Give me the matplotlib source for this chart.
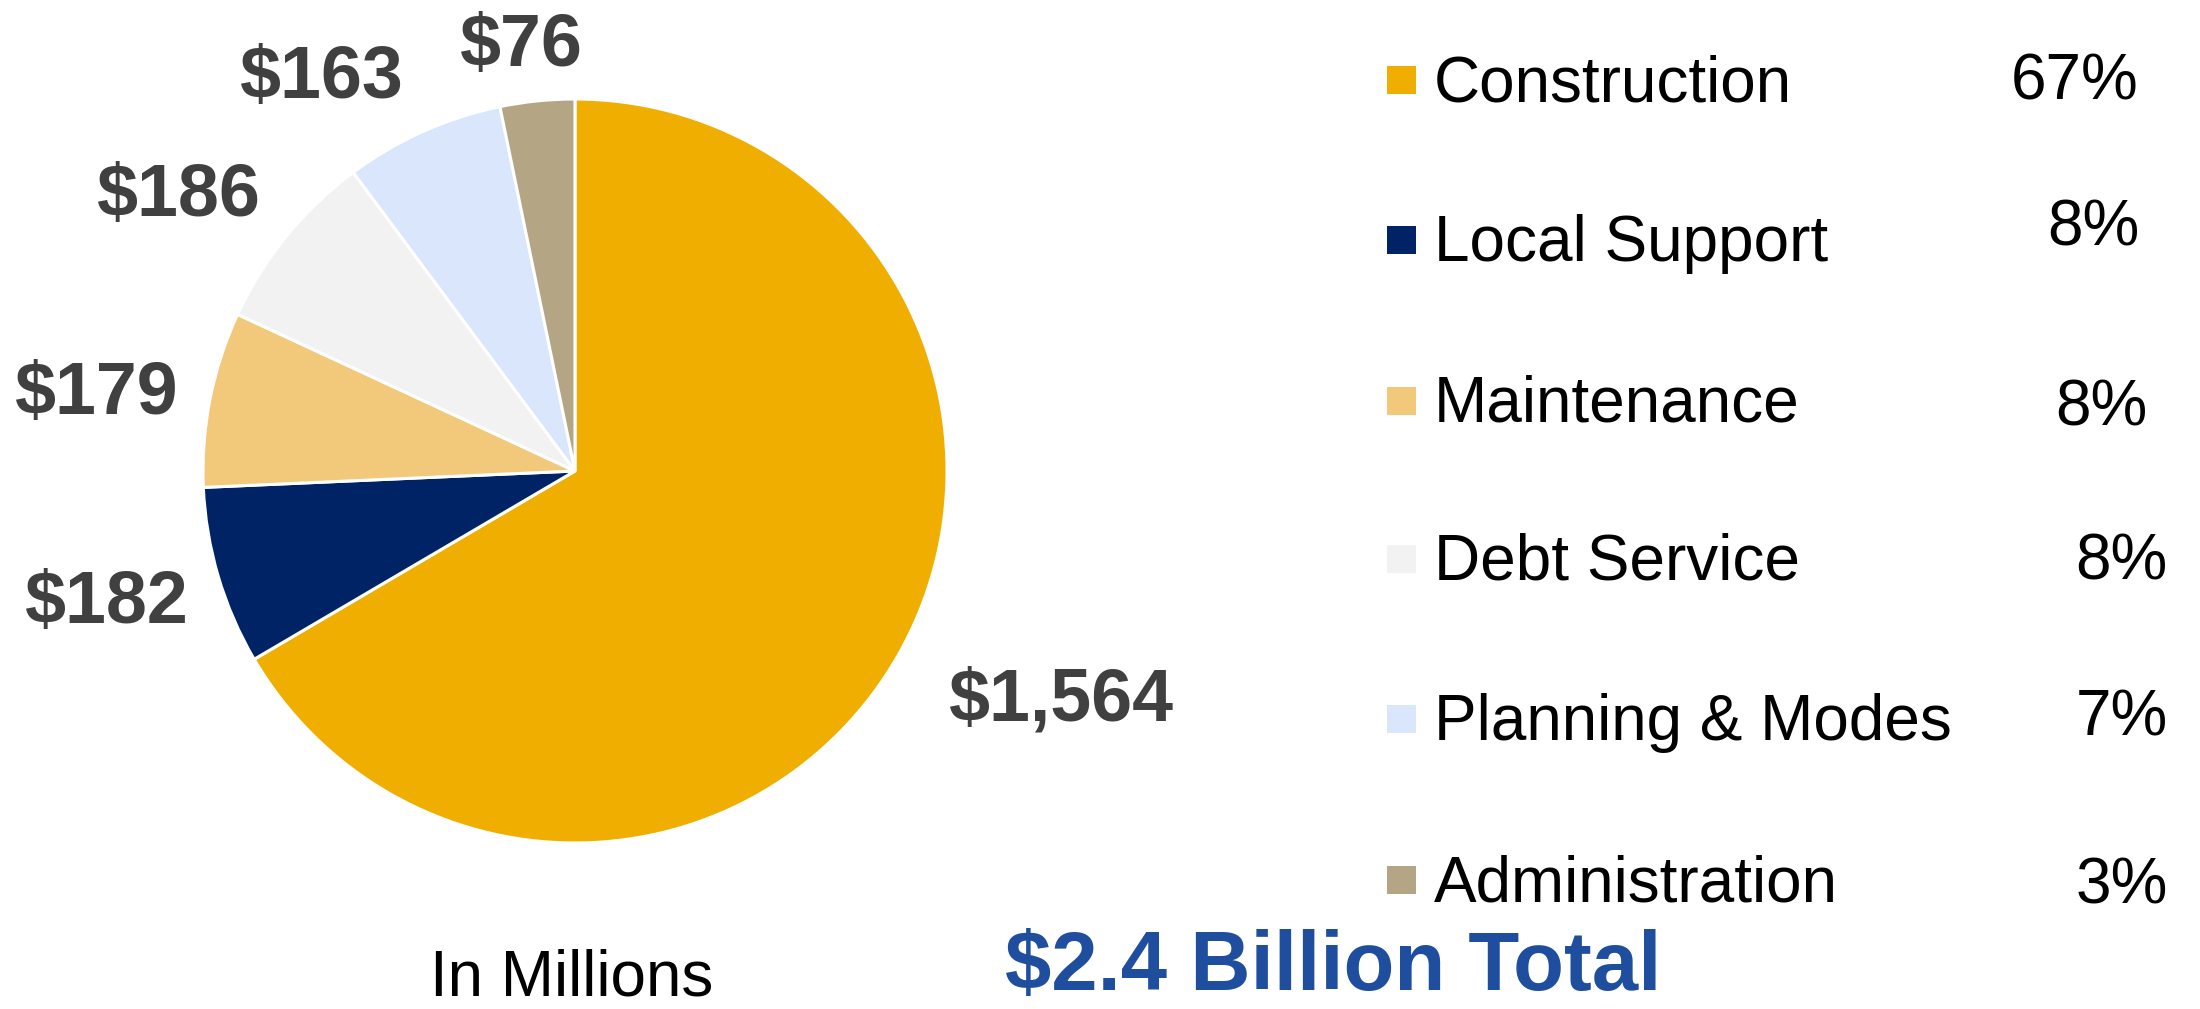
import matplotlib
matplotlib.use('Agg')
import matplotlib.pyplot as plt
from matplotlib.patches import Rectangle

plt.rcParams['font.family'] = ['Liberation Sans', 'DejaVu Sans']

# data (in millions)
categories = ['Construction', 'Local Support', 'Maintenance', 'Debt Service',
              'Planning & Modes', 'Administration']
amounts = [1564, 182, 179, 186, 163, 76]
pct_labels = ['67%', '8%', '8%', '8%', '7%', '3%']
colors = ['#F0AE00', '#002366', '#F2C97A', '#F2F2F2', '#D9E6FC', '#B4A585']

W, H = 2200, 1009
cx, cy, R = 575, 471, 372   # pie centre / radius in pixels

# layout (pixels from top-left)
label_xy = [(1061, 720), (107, 623), (97, 414), (179, 216), (322, 98), (521, 66)]
leg_rows = [101, 261, 422, 580, 740, 901]
pct_pos = [(2139, 100), (2139, 246), (2147, 425), (2168, 579), (2168, 735), (2168, 904)]

def fx(x):
    return x / W

def fy(y):
    return 1 - y / H

fig = plt.figure(figsize=(22, 10.09), dpi=100)
ax = fig.add_axes([0, 0, 1, 1])
ax.pie(amounts, colors=colors, startangle=90, counterclock=False, radius=1,
       wedgeprops=dict(edgecolor='white', linewidth=2.2))
ax.set_aspect('auto')
ax.set_xlim(-cx / R, (W - cx) / R)
ax.set_ylim((cy - H) / R, cy / R)
ax.axis('off')

for v, (x, y) in zip(amounts, label_xy):
    fig.text(fx(x), fy(y), '${:,}'.format(v), ha='center', va='baseline',
             fontsize=53, fontweight='bold', color='#404040')

# legend
for i, (name, c) in enumerate(zip(categories, colors)):
    base = leg_rows[i]
    fig.patches.append(Rectangle((fx(1387), fy(base - 7)), 29 / W, 28 / H,
                                 transform=fig.transFigure, facecolor=c,
                                 edgecolor='none'))
    fig.text(fx(1434), fy(base), name, ha='left', va='baseline',
             fontsize=46, color='black')
    px, py = pct_pos[i]
    fig.text(fx(px), fy(py), pct_labels[i], ha='right', va='baseline',
             fontsize=46, color='black')

fig.text(fx(572), fy(996), 'In Millions', ha='center', va='baseline',
         fontsize=46, color='black')
fig.text(fx(1333), fy(990), '$2.4 Billion Total', ha='center', va='baseline',
         fontsize=60, fontweight='bold', color='#1F4E9F')

fig.savefig('out.png', dpi=100, facecolor='white')
